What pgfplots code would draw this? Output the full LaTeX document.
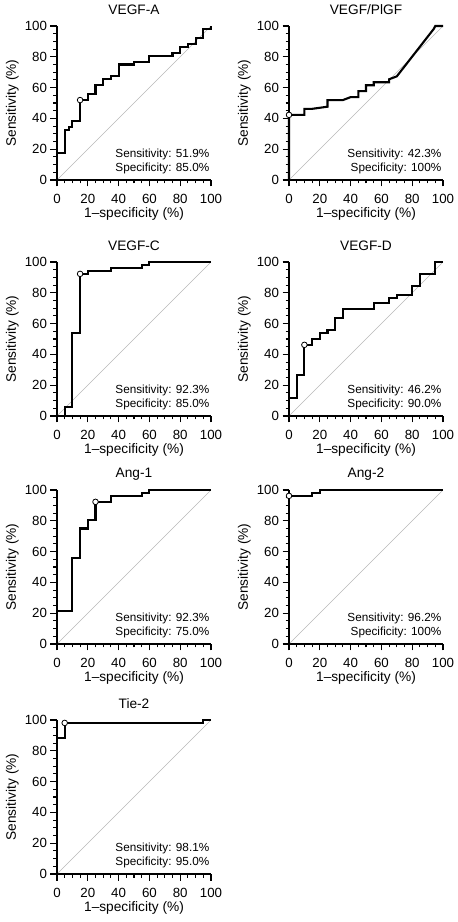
\documentclass[border=0pt]{standalone}
\usepackage{fontspec}
\setmainfont{Liberation Sans}
\usepackage{pgfplots}
\pgfplotsset{compat=1.18}
\pgfplotsset{
  rocax/.style={
    scale only axis, width=154pt, height=154pt,
    xmin=0, xmax=100, ymin=0, ymax=100, enlargelimits=false,
    axis lines*=left,
    axis line style={line width=1.3pt, black},
    xtick={0,20,...,100}, ytick={0,20,...,100},
    minor tick num=3,
    tick align=outside,
    major tick length=6.5pt, minor tick length=3.5pt,
    every tick/.style={black, line width=1.1pt},
    /pgf/number format/assume math mode=true,
    tick label style={font=\fontsize{13.3}{15}\selectfont},
    xticklabel style={inner sep=1pt, yshift=-6.9pt},
    xlabel={1–specificity (\%)}, ylabel={Sensitivity (\%)},
    every axis x label/.style={at={(axis description cs:0.5,-0.218)}, anchor=center, inner sep=0pt, font=\fontsize{13.7}{15}\selectfont},
    every axis y label/.style={at={(axis description cs:-0.29,0.5)}, anchor=center, rotate=90, inner sep=0pt, font=\fontsize{13.7}{15}\selectfont},
    every axis title/.style={at={(axis description cs:0.5,1.104)}, anchor=center, font=\fontsize{13.7}{15}\selectfont},
    clip=false,
  },
  diag/.style={color=black!28, line width=0.5pt},
  roc/.style={black, line width=2.1pt, line join=miter},
  cut/.style={only marks, mark=*, mark size=2.8pt, mark options={fill=white, draw=black, line width=0.8pt}},
}
\tikzset{ann/.style={anchor=east, font=\fontsize{11.75}{13}\selectfont, inner sep=0pt}}
\begin{document}
\begin{tikzpicture}
\path[use as bounding box] (0pt,0pt) rectangle (458pt,922pt);

% VEGF-A
\begin{axis}[rocax, at={(57pt,742pt)}, anchor=south west, title={VEGF-A}]
\addplot[diag] coordinates {(0,0) (100,100)};
\addplot[roc] coordinates {(0,0) (0,17.3) (5,17.3) (5,32.7) (8,32.7) (8,34.6) (10,34.6) (10,38.5) (15,38.5) (15,51.9) (20,51.9) (20,55.8) (25,55.8) (25,61.5) (30,61.5) (30,65.4) (35,65.4) (35,67.3) (40,67.3) (40,75.0) (50,75.0) (50,76.9) (60,76.9) (60,80.8) (75,80.8) (75,82.7) (80,82.7) (80,86.5) (85,86.5) (85,88.5) (90,88.5) (90,92.3) (95,92.3) (95,98.1) (100,98.1) (100,100)};
\addplot[cut] coordinates {(15,51.9)};
\node[ann] at (axis cs:99,16.9) {Sensitivity: 51.9\%};
\node[ann] at (axis cs:99,7.8) {Specificity: 85.0\%};
\end{axis}

% VEGF/PlGF
\begin{axis}[rocax, at={(289pt,742pt)}, anchor=south west, title={VEGF/PlGF}]
\addplot[diag] coordinates {(0,0) (100,100)};
\addplot[roc] coordinates {(0,0) (0,42.3) (10,42.3) (10,46.2) (15,46.2) (25,47.6) (25,51.9) (35,51.9) (40,53.8) (45,53.8) (45,57.7) (50,57.7) (50,61.5) (55,61.5) (55,63.5) (65,63.5) (65,65.4) (70,67.3) (94,98.1) (95,100) (100,100)};
\addplot[cut] coordinates {(0,42.3)};
\node[ann] at (axis cs:99,16.9) {Sensitivity: 42.3\%};
\node[ann] at (axis cs:99,7.8) {Specificity: 100\%};
\end{axis}

% VEGF-C
\begin{axis}[rocax, at={(57pt,506pt)}, anchor=south west, title={VEGF-C}]
\addplot[diag] coordinates {(0,0) (100,100)};
\addplot[roc] coordinates {(0,0) (5,0) (5,5.8) (10,5.8) (10,53.8) (15,53.8) (15,92.3) (20,92.3) (20,94.2) (35,94.2) (35,96.2) (55,96.2) (55,98.1) (60,98.1) (60,100) (100,100)};
\addplot[cut] coordinates {(15,92.3)};
\node[ann] at (axis cs:99,16.9) {Sensitivity: 92.3\%};
\node[ann] at (axis cs:99,7.8) {Specificity: 85.0\%};
\end{axis}

% VEGF-D
\begin{axis}[rocax, at={(289pt,506pt)}, anchor=south west, title={VEGF-D}]
\addplot[diag] coordinates {(0,0) (100,100)};
\addplot[roc] coordinates {(0,0) (0,11.5) (5,11.5) (5,26.9) (10,26.9) (10,46.2) (15,46.2) (15,50.0) (20,50.0) (20,53.8) (25,53.8) (25,55.8) (30,55.8) (30,63.5) (35,63.5) (35,69.2) (55,69.2) (55,73.1) (65,73.1) (65,76.9) (70,76.9) (70,78.8) (80,78.8) (80,84.6) (85,84.6) (85,92.3) (95,92.3) (95,100) (100,100)};
\addplot[cut] coordinates {(10,46.2)};
\node[ann] at (axis cs:99,16.9) {Sensitivity: 46.2\%};
\node[ann] at (axis cs:99,7.8) {Specificity: 90.0\%};
\end{axis}

% Ang-1
\begin{axis}[rocax, at={(57pt,278pt)}, anchor=south west, title={Ang-1}]
\addplot[diag] coordinates {(0,0) (100,100)};
\addplot[roc] coordinates {(0,0) (0,21.2) (10,21.2) (10,55.8) (15,55.8) (15,75.0) (20,75.0) (20,80.8) (25,80.8) (25,92.3) (35,92.3) (35,96.2) (55,96.2) (55,98.1) (60,98.1) (60,100) (100,100)};
\addplot[cut] coordinates {(25,92.3)};
\node[ann] at (axis cs:99,16.9) {Sensitivity: 92.3\%};
\node[ann] at (axis cs:99,7.8) {Specificity: 75.0\%};
\end{axis}

% Ang-2
\begin{axis}[rocax, at={(289pt,278pt)}, anchor=south west, title={Ang-2}]
\addplot[diag] coordinates {(0,0) (100,100)};
\addplot[roc] coordinates {(0,0) (0,96.2) (15,96.2) (15,98.1) (20,98.1) (20,100) (100,100)};
\addplot[cut] coordinates {(0,96.2)};
\node[ann] at (axis cs:99,16.9) {Sensitivity: 96.2\%};
\node[ann] at (axis cs:99,7.8) {Specificity: 100\%};
\end{axis}

% Tie-2
\begin{axis}[rocax, at={(57pt,48pt)}, anchor=south west, title={Tie-2}]
\addplot[diag] coordinates {(0,0) (100,100)};
\addplot[roc] coordinates {(0,0) (0,88.5) (5,88.5) (5,98.1) (95,98.1) (95,100) (100,100)};
\addplot[cut] coordinates {(5,98.1)};
\node[ann] at (axis cs:99,16.9) {Sensitivity: 98.1\%};
\node[ann] at (axis cs:99,7.8) {Specificity: 95.0\%};
\end{axis}
\end{tikzpicture}
\end{document}
